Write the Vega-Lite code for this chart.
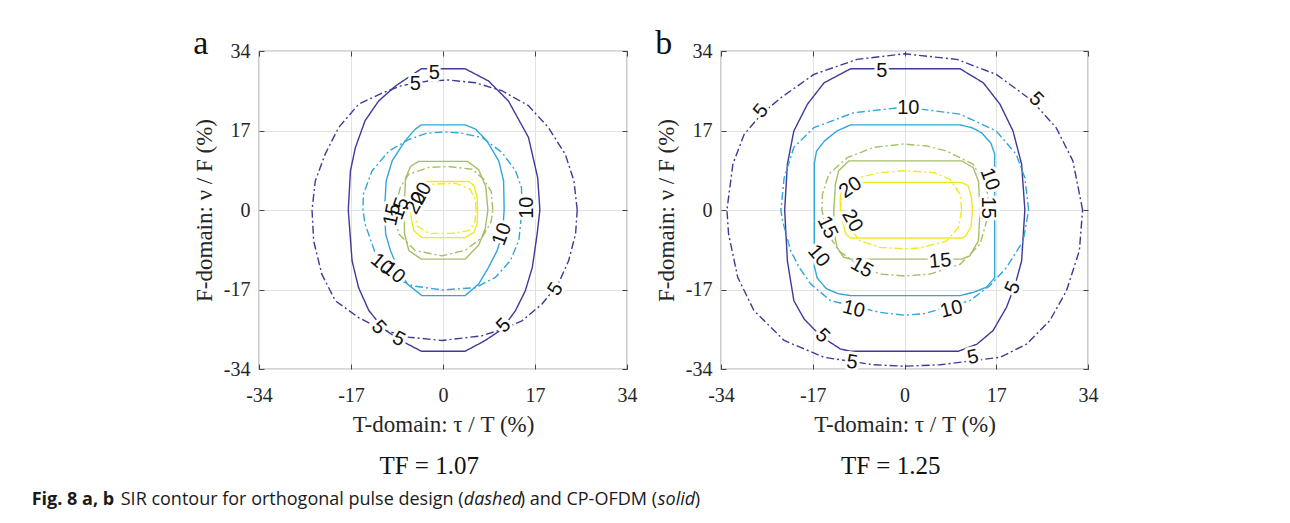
{
  "$schema": "https://vega.github.io/schema/vega-lite/v6.json",
  "background": "white",
  "padding": {"left": 31, "top": 26, "right": 5, "bottom": 5},
  "config": {
    "view": {"stroke": "#555555", "strokeWidth": 1.2},
    "concat": {"spacing": 16},
    "axis": {
      "labelFont": "Liberation Serif", "labelFontSize": 20, "labelColor": "#262626",
      "titleFont": "Liberation Serif", "titleFontSize": 23, "titleFontWeight": "normal", "titleColor": "#262626",
      "grid": true, "gridColor": "#e2e2e2", "gridWidth": 1,
      "domain": false, "ticks": true, "tickSize": -5, "tickColor": "#444444", "tickWidth": 1,
      "labelFlush": false
    },
    "axisX": {"labelPadding": 21, "titlePadding": 8},
    "axisY": {"labelPadding": 14, "titlePadding": 7},
    "title": {"font": "Liberation Serif", "fontWeight": "normal", "color": "#111111"}
  },
  "datasets": {
    "curvesA": [
      {"sir":5,"pulse":"CP-OFDM","i":0,"tau":17.9,"nu":0},
      {"sir":5,"pulse":"CP-OFDM","i":1,"tau":17.5,"nu":6.9},
      {"sir":5,"pulse":"CP-OFDM","i":2,"tau":15.8,"nu":15.5},
      {"sir":5,"pulse":"CP-OFDM","i":3,"tau":12.1,"nu":23.3},
      {"sir":5,"pulse":"CP-OFDM","i":4,"tau":8.4,"nu":27.6},
      {"sir":5,"pulse":"CP-OFDM","i":5,"tau":4.1,"nu":30.2},
      {"sir":5,"pulse":"CP-OFDM","i":6,"tau":-4.0,"nu":30.2},
      {"sir":5,"pulse":"CP-OFDM","i":7,"tau":-5.7,"nu":28.9},
      {"sir":5,"pulse":"CP-OFDM","i":8,"tau":-8.8,"nu":26.5},
      {"sir":5,"pulse":"CP-OFDM","i":9,"tau":-11.9,"nu":23.3},
      {"sir":5,"pulse":"CP-OFDM","i":10,"tau":-14.4,"nu":19.1},
      {"sir":5,"pulse":"CP-OFDM","i":11,"tau":-16.2,"nu":13.3},
      {"sir":5,"pulse":"CP-OFDM","i":12,"tau":-17.1,"nu":8.4},
      {"sir":5,"pulse":"CP-OFDM","i":13,"tau":-17.5,"nu":0},
      {"sir":5,"pulse":"CP-OFDM","i":14,"tau":-16.8,"nu":-10.9},
      {"sir":5,"pulse":"CP-OFDM","i":15,"tau":-15.6,"nu":-16.6},
      {"sir":5,"pulse":"CP-OFDM","i":16,"tau":-13.7,"nu":-21.5},
      {"sir":5,"pulse":"CP-OFDM","i":17,"tau":-10.9,"nu":-25.5},
      {"sir":5,"pulse":"CP-OFDM","i":18,"tau":-7.8,"nu":-27.9},
      {"sir":5,"pulse":"CP-OFDM","i":19,"tau":-4.0,"nu":-30.2},
      {"sir":5,"pulse":"CP-OFDM","i":20,"tau":4.1,"nu":-30.2},
      {"sir":5,"pulse":"CP-OFDM","i":21,"tau":7.8,"nu":-27.9},
      {"sir":5,"pulse":"CP-OFDM","i":22,"tau":10.9,"nu":-25.5},
      {"sir":5,"pulse":"CP-OFDM","i":23,"tau":13.4,"nu":-21.5},
      {"sir":5,"pulse":"CP-OFDM","i":24,"tau":15.2,"nu":-17.3},
      {"sir":5,"pulse":"CP-OFDM","i":25,"tau":16.5,"nu":-12.3},
      {"sir":5,"pulse":"CP-OFDM","i":26,"tau":17.4,"nu":-5.1},
      {"sir":5,"pulse":"CP-OFDM","i":27,"tau":17.9,"nu":0},

      {"sir":5,"pulse":"orthogonal","i":0,"tau":24.8,"nu":0},
      {"sir":5,"pulse":"orthogonal","i":1,"tau":24.2,"nu":6.2},
      {"sir":5,"pulse":"orthogonal","i":2,"tau":22.6,"nu":11.9},
      {"sir":5,"pulse":"orthogonal","i":3,"tau":19.5,"nu":17.6},
      {"sir":5,"pulse":"orthogonal","i":4,"tau":15.8,"nu":22.3},
      {"sir":5,"pulse":"orthogonal","i":5,"tau":10.9,"nu":25.5},
      {"sir":5,"pulse":"orthogonal","i":6,"tau":6.0,"nu":27.2},
      {"sir":5,"pulse":"orthogonal","i":7,"tau":1.0,"nu":27.8},
      {"sir":5,"pulse":"orthogonal","i":8,"tau":-2.6,"nu":27.6},
      {"sir":5,"pulse":"orthogonal","i":9,"tau":-7.6,"nu":26.6},
      {"sir":5,"pulse":"orthogonal","i":10,"tau":-11.3,"nu":25.0},
      {"sir":5,"pulse":"orthogonal","i":11,"tau":-15.6,"nu":22.6},
      {"sir":5,"pulse":"orthogonal","i":12,"tau":-19.3,"nu":17.6},
      {"sir":5,"pulse":"orthogonal","i":13,"tau":-21.8,"nu":11.9},
      {"sir":5,"pulse":"orthogonal","i":14,"tau":-23.6,"nu":6.2},
      {"sir":5,"pulse":"orthogonal","i":15,"tau":-24.2,"nu":0},
      {"sir":5,"pulse":"orthogonal","i":16,"tau":-23.9,"nu":-6.6},
      {"sir":5,"pulse":"orthogonal","i":17,"tau":-22.4,"nu":-13.7},
      {"sir":5,"pulse":"orthogonal","i":18,"tau":-19.9,"nu":-19.4},
      {"sir":5,"pulse":"orthogonal","i":19,"tau":-15.6,"nu":-23.0},
      {"sir":5,"pulse":"orthogonal","i":20,"tau":-11.5,"nu":-25.5},
      {"sir":5,"pulse":"orthogonal","i":21,"tau":-6.3,"nu":-27.2},
      {"sir":5,"pulse":"orthogonal","i":22,"tau":-0.2,"nu":-27.9},
      {"sir":5,"pulse":"orthogonal","i":23,"tau":7.2,"nu":-26.9},
      {"sir":5,"pulse":"orthogonal","i":24,"tau":10.9,"nu":-25.5},
      {"sir":5,"pulse":"orthogonal","i":25,"tau":14.6,"nu":-23.7},
      {"sir":5,"pulse":"orthogonal","i":26,"tau":18.3,"nu":-20.1},
      {"sir":5,"pulse":"orthogonal","i":27,"tau":21.3,"nu":-15.8},
      {"sir":5,"pulse":"orthogonal","i":28,"tau":23.2,"nu":-10.9},
      {"sir":5,"pulse":"orthogonal","i":29,"tau":24.5,"nu":-5.1},
      {"sir":5,"pulse":"orthogonal","i":30,"tau":24.8,"nu":0},

      {"sir":10,"pulse":"CP-OFDM","i":0,"tau":11.3,"nu":0},
      {"sir":10,"pulse":"CP-OFDM","i":1,"tau":11.2,"nu":6.2},
      {"sir":10,"pulse":"CP-OFDM","i":2,"tau":10.3,"nu":10.5},
      {"sir":10,"pulse":"CP-OFDM","i":3,"tau":8.1,"nu":14.8},
      {"sir":10,"pulse":"CP-OFDM","i":4,"tau":6.0,"nu":17.3},
      {"sir":10,"pulse":"CP-OFDM","i":5,"tau":4.1,"nu":18.2},
      {"sir":10,"pulse":"CP-OFDM","i":6,"tau":-4.0,"nu":18.2},
      {"sir":10,"pulse":"CP-OFDM","i":7,"tau":-5.1,"nu":17.3},
      {"sir":10,"pulse":"CP-OFDM","i":8,"tau":-7.0,"nu":14.8},
      {"sir":10,"pulse":"CP-OFDM","i":9,"tau":-9.4,"nu":10.5},
      {"sir":10,"pulse":"CP-OFDM","i":10,"tau":-10.5,"nu":6.2},
      {"sir":10,"pulse":"CP-OFDM","i":11,"tau":-10.8,"nu":0},
      {"sir":10,"pulse":"CP-OFDM","i":12,"tau":-10.6,"nu":-5.1},
      {"sir":10,"pulse":"CP-OFDM","i":13,"tau":-9.7,"nu":-8.7},
      {"sir":10,"pulse":"CP-OFDM","i":14,"tau":-8.4,"nu":-12.3},
      {"sir":10,"pulse":"CP-OFDM","i":15,"tau":-6.6,"nu":-15.8},
      {"sir":10,"pulse":"CP-OFDM","i":16,"tau":-3.9,"nu":-18.3},
      {"sir":10,"pulse":"CP-OFDM","i":17,"tau":4.1,"nu":-18.3},
      {"sir":10,"pulse":"CP-OFDM","i":18,"tau":6.6,"nu":-15.8},
      {"sir":10,"pulse":"CP-OFDM","i":19,"tau":8.4,"nu":-12.3},
      {"sir":10,"pulse":"CP-OFDM","i":20,"tau":10.0,"nu":-8.7},
      {"sir":10,"pulse":"CP-OFDM","i":21,"tau":11.0,"nu":-5.0},
      {"sir":10,"pulse":"CP-OFDM","i":22,"tau":11.3,"nu":0},

      {"sir":10,"pulse":"orthogonal","i":0,"tau":14.6,"nu":0},
      {"sir":10,"pulse":"orthogonal","i":1,"tau":14.5,"nu":4.8},
      {"sir":10,"pulse":"orthogonal","i":2,"tau":13.4,"nu":8.4},
      {"sir":10,"pulse":"orthogonal","i":3,"tau":10.9,"nu":12.3},
      {"sir":10,"pulse":"orthogonal","i":4,"tau":7.2,"nu":15.5},
      {"sir":10,"pulse":"orthogonal","i":5,"tau":3.0,"nu":16.5},
      {"sir":10,"pulse":"orthogonal","i":6,"tau":0,"nu":16.7},
      {"sir":10,"pulse":"orthogonal","i":7,"tau":-3.0,"nu":16.4},
      {"sir":10,"pulse":"orthogonal","i":8,"tau":-6.3,"nu":15.1},
      {"sir":10,"pulse":"orthogonal","i":9,"tau":-10.0,"nu":12.6},
      {"sir":10,"pulse":"orthogonal","i":10,"tau":-13.1,"nu":8.4},
      {"sir":10,"pulse":"orthogonal","i":11,"tau":-14.7,"nu":3.4},
      {"sir":10,"pulse":"orthogonal","i":12,"tau":-14.8,"nu":0},
      {"sir":10,"pulse":"orthogonal","i":13,"tau":-14.4,"nu":-3.0},
      {"sir":10,"pulse":"orthogonal","i":14,"tau":-13.1,"nu":-7.3},
      {"sir":10,"pulse":"orthogonal","i":15,"tau":-12.0,"nu":-10.9},
      {"sir":10,"pulse":"orthogonal","i":16,"tau":-9.5,"nu":-14.2},
      {"sir":10,"pulse":"orthogonal","i":17,"tau":-5.7,"nu":-16.2},
      {"sir":10,"pulse":"orthogonal","i":18,"tau":-0.2,"nu":-17.1},
      {"sir":10,"pulse":"orthogonal","i":19,"tau":6.0,"nu":-16.6},
      {"sir":10,"pulse":"orthogonal","i":20,"tau":9.7,"nu":-14.4},
      {"sir":10,"pulse":"orthogonal","i":21,"tau":12.4,"nu":-10.9},
      {"sir":10,"pulse":"orthogonal","i":22,"tau":14.0,"nu":-6.6},
      {"sir":10,"pulse":"orthogonal","i":23,"tau":14.6,"nu":0},

      {"sir":15,"pulse":"CP-OFDM","i":0,"tau":8.3,"nu":0},
      {"sir":15,"pulse":"CP-OFDM","i":1,"tau":7.9,"nu":5.0},
      {"sir":15,"pulse":"CP-OFDM","i":2,"tau":6.6,"nu":8.6},
      {"sir":15,"pulse":"CP-OFDM","i":3,"tau":4.5,"nu":10.4},
      {"sir":15,"pulse":"CP-OFDM","i":4,"tau":-4.5,"nu":10.4},
      {"sir":15,"pulse":"CP-OFDM","i":5,"tau":-6.0,"nu":9.3},
      {"sir":15,"pulse":"CP-OFDM","i":6,"tau":-6.9,"nu":6.9},
      {"sir":15,"pulse":"CP-OFDM","i":7,"tau":-7.2,"nu":0},
      {"sir":15,"pulse":"CP-OFDM","i":8,"tau":-7.1,"nu":-5.1},
      {"sir":15,"pulse":"CP-OFDM","i":9,"tau":-6.3,"nu":-8.7},
      {"sir":15,"pulse":"CP-OFDM","i":10,"tau":-4.0,"nu":-10.5},
      {"sir":15,"pulse":"CP-OFDM","i":11,"tau":4.1,"nu":-10.5},
      {"sir":15,"pulse":"CP-OFDM","i":12,"tau":6.6,"nu":-7.5},
      {"sir":15,"pulse":"CP-OFDM","i":13,"tau":7.8,"nu":-4.0},
      {"sir":15,"pulse":"CP-OFDM","i":14,"tau":8.3,"nu":0},

      {"sir":15,"pulse":"orthogonal","i":0,"tau":9.2,"nu":0},
      {"sir":15,"pulse":"orthogonal","i":1,"tau":8.9,"nu":4.0},
      {"sir":15,"pulse":"orthogonal","i":2,"tau":7.5,"nu":6.6},
      {"sir":15,"pulse":"orthogonal","i":3,"tau":5.4,"nu":8.7},
      {"sir":15,"pulse":"orthogonal","i":4,"tau":1.0,"nu":9.3},
      {"sir":15,"pulse":"orthogonal","i":5,"tau":-2.6,"nu":9.1},
      {"sir":15,"pulse":"orthogonal","i":6,"tau":-6.3,"nu":7.7},
      {"sir":15,"pulse":"orthogonal","i":7,"tau":-7.9,"nu":4.8},
      {"sir":15,"pulse":"orthogonal","i":8,"tau":-8.8,"nu":0.5},
      {"sir":15,"pulse":"orthogonal","i":9,"tau":-8.6,"nu":-2.5},
      {"sir":15,"pulse":"orthogonal","i":10,"tau":-8.2,"nu":-5.1},
      {"sir":15,"pulse":"orthogonal","i":11,"tau":-5.1,"nu":-8.7},
      {"sir":15,"pulse":"orthogonal","i":12,"tau":-0.2,"nu":-9.8},
      {"sir":15,"pulse":"orthogonal","i":13,"tau":4.1,"nu":-8.6},
      {"sir":15,"pulse":"orthogonal","i":14,"tau":7.2,"nu":-5.9},
      {"sir":15,"pulse":"orthogonal","i":15,"tau":8.9,"nu":-2.5},
      {"sir":15,"pulse":"orthogonal","i":16,"tau":9.2,"nu":0},

      {"sir":20,"pulse":"CP-OFDM","i":0,"tau":6.4,"nu":0},
      {"sir":20,"pulse":"CP-OFDM","i":1,"tau":6.3,"nu":2.7},
      {"sir":20,"pulse":"CP-OFDM","i":2,"tau":5.7,"nu":5.2},
      {"sir":20,"pulse":"CP-OFDM","i":3,"tau":4.8,"nu":6.1},
      {"sir":20,"pulse":"CP-OFDM","i":4,"tau":-3.0,"nu":6.1},
      {"sir":20,"pulse":"CP-OFDM","i":5,"tau":-4.5,"nu":5.5},
      {"sir":20,"pulse":"CP-OFDM","i":6,"tau":-5.5,"nu":3.5},
      {"sir":20,"pulse":"CP-OFDM","i":7,"tau":-5.9,"nu":0},
      {"sir":20,"pulse":"CP-OFDM","i":8,"tau":-5.9,"nu":-1.6},
      {"sir":20,"pulse":"CP-OFDM","i":9,"tau":-5.4,"nu":-4.4},
      {"sir":20,"pulse":"CP-OFDM","i":10,"tau":-3.9,"nu":-5.9},
      {"sir":20,"pulse":"CP-OFDM","i":11,"tau":4.1,"nu":-5.9},
      {"sir":20,"pulse":"CP-OFDM","i":12,"tau":5.7,"nu":-4.8},
      {"sir":20,"pulse":"CP-OFDM","i":13,"tau":6.3,"nu":-3.0},
      {"sir":20,"pulse":"CP-OFDM","i":14,"tau":6.4,"nu":0},

      {"sir":20,"pulse":"orthogonal","i":0,"tau":6.1,"nu":0},
      {"sir":20,"pulse":"orthogonal","i":1,"tau":6.0,"nu":2.0},
      {"sir":20,"pulse":"orthogonal","i":2,"tau":5.0,"nu":4.5},
      {"sir":20,"pulse":"orthogonal","i":3,"tau":2.3,"nu":5.7},
      {"sir":20,"pulse":"orthogonal","i":4,"tau":-2.0,"nu":5.5},
      {"sir":20,"pulse":"orthogonal","i":5,"tau":-4.2,"nu":4.5},
      {"sir":20,"pulse":"orthogonal","i":6,"tau":-5.2,"nu":2.0},
      {"sir":20,"pulse":"orthogonal","i":7,"tau":-5.1,"nu":-1.6},
      {"sir":20,"pulse":"orthogonal","i":8,"tau":-4.8,"nu":-3.4},
      {"sir":20,"pulse":"orthogonal","i":9,"tau":-2.6,"nu":-5.0},
      {"sir":20,"pulse":"orthogonal","i":10,"tau":1.7,"nu":-5.0},
      {"sir":20,"pulse":"orthogonal","i":11,"tau":4.8,"nu":-4.4},
      {"sir":20,"pulse":"orthogonal","i":12,"tau":5.9,"nu":-2.7},
      {"sir":20,"pulse":"orthogonal","i":13,"tau":6.1,"nu":0}
    ],
    "curvesB": [
      {"sir":5,"pulse":"CP-OFDM","i":0,"tau":22.3,"nu":0},
      {"sir":5,"pulse":"CP-OFDM","i":1,"tau":21.7,"nu":9.8},
      {"sir":5,"pulse":"CP-OFDM","i":2,"tau":20.1,"nu":16.9},
      {"sir":5,"pulse":"CP-OFDM","i":3,"tau":17.7,"nu":22.6},
      {"sir":5,"pulse":"CP-OFDM","i":4,"tau":14.6,"nu":27.2},
      {"sir":5,"pulse":"CP-OFDM","i":5,"tau":10.3,"nu":30.2},
      {"sir":5,"pulse":"CP-OFDM","i":6,"tau":-10.0,"nu":30.2},
      {"sir":5,"pulse":"CP-OFDM","i":7,"tau":-14.9,"nu":27.2},
      {"sir":5,"pulse":"CP-OFDM","i":8,"tau":-18.0,"nu":22.6},
      {"sir":5,"pulse":"CP-OFDM","i":9,"tau":-20.5,"nu":16.9},
      {"sir":5,"pulse":"CP-OFDM","i":10,"tau":-21.7,"nu":9.8},
      {"sir":5,"pulse":"CP-OFDM","i":11,"tau":-22.2,"nu":0},
      {"sir":5,"pulse":"CP-OFDM","i":12,"tau":-21.7,"nu":-10.9},
      {"sir":5,"pulse":"CP-OFDM","i":13,"tau":-20.5,"nu":-19.4},
      {"sir":5,"pulse":"CP-OFDM","i":14,"tau":-18.6,"nu":-23.3},
      {"sir":5,"pulse":"CP-OFDM","i":15,"tau":-15.5,"nu":-27.0},
      {"sir":5,"pulse":"CP-OFDM","i":16,"tau":-11.9,"nu":-29.7},
      {"sir":5,"pulse":"CP-OFDM","i":17,"tau":-10.0,"nu":-30.2},
      {"sir":5,"pulse":"CP-OFDM","i":18,"tau":10.0,"nu":-30.2},
      {"sir":5,"pulse":"CP-OFDM","i":19,"tau":13.4,"nu":-28.7},
      {"sir":5,"pulse":"CP-OFDM","i":20,"tau":16.4,"nu":-25.8},
      {"sir":5,"pulse":"CP-OFDM","i":21,"tau":18.9,"nu":-20.8},
      {"sir":5,"pulse":"CP-OFDM","i":22,"tau":20.5,"nu":-16.0},
      {"sir":5,"pulse":"CP-OFDM","i":23,"tau":21.7,"nu":-10.9},
      {"sir":5,"pulse":"CP-OFDM","i":24,"tau":22.3,"nu":0},

      {"sir":5,"pulse":"orthogonal","i":0,"tau":33.0,"nu":0},
      {"sir":5,"pulse":"orthogonal","i":1,"tau":31.2,"nu":10.5},
      {"sir":5,"pulse":"orthogonal","i":2,"tau":28.1,"nu":17.6},
      {"sir":5,"pulse":"orthogonal","i":3,"tau":23.5,"nu":23.5},
      {"sir":5,"pulse":"orthogonal","i":4,"tau":17.0,"nu":29.0},
      {"sir":5,"pulse":"orthogonal","i":5,"tau":9.7,"nu":32.2},
      {"sir":5,"pulse":"orthogonal","i":6,"tau":0,"nu":33.4},
      {"sir":5,"pulse":"orthogonal","i":7,"tau":-8.8,"nu":32.2},
      {"sir":5,"pulse":"orthogonal","i":8,"tau":-16.8,"nu":29.0},
      {"sir":5,"pulse":"orthogonal","i":9,"tau":-22.9,"nu":24.0},
      {"sir":5,"pulse":"orthogonal","i":10,"tau":-26.5,"nu":20.5},
      {"sir":5,"pulse":"orthogonal","i":11,"tau":-29.7,"nu":16.2},
      {"sir":5,"pulse":"orthogonal","i":12,"tau":-31.8,"nu":9.8},
      {"sir":5,"pulse":"orthogonal","i":13,"tau":-32.9,"nu":0},
      {"sir":5,"pulse":"orthogonal","i":14,"tau":-32.6,"nu":-5.1},
      {"sir":5,"pulse":"orthogonal","i":15,"tau":-30.9,"nu":-14.4},
      {"sir":5,"pulse":"orthogonal","i":16,"tau":-27.9,"nu":-21.5},
      {"sir":5,"pulse":"orthogonal","i":17,"tau":-22.3,"nu":-27.9},
      {"sir":5,"pulse":"orthogonal","i":18,"tau":-14.9,"nu":-31.5},
      {"sir":5,"pulse":"orthogonal","i":19,"tau":-5.7,"nu":-33.1},
      {"sir":5,"pulse":"orthogonal","i":20,"tau":0,"nu":-33.4},
      {"sir":5,"pulse":"orthogonal","i":21,"tau":6.6,"nu":-33.1},
      {"sir":5,"pulse":"orthogonal","i":22,"tau":17.7,"nu":-31.5},
      {"sir":5,"pulse":"orthogonal","i":23,"tau":22.6,"nu":-28.7},
      {"sir":5,"pulse":"orthogonal","i":24,"tau":26.9,"nu":-23.7},
      {"sir":5,"pulse":"orthogonal","i":25,"tau":30.0,"nu":-17.3},
      {"sir":5,"pulse":"orthogonal","i":26,"tau":32.4,"nu":-8.7},
      {"sir":5,"pulse":"orthogonal","i":27,"tau":33.0,"nu":0},

      {"sir":10,"pulse":"CP-OFDM","i":0,"tau":16.7,"nu":0},
      {"sir":10,"pulse":"CP-OFDM","i":1,"tau":16.7,"nu":12.0},
      {"sir":10,"pulse":"CP-OFDM","i":2,"tau":16.0,"nu":14.3},
      {"sir":10,"pulse":"CP-OFDM","i":3,"tau":14.3,"nu":16.5},
      {"sir":10,"pulse":"CP-OFDM","i":4,"tau":12.5,"nu":17.6},
      {"sir":10,"pulse":"CP-OFDM","i":5,"tau":10.3,"nu":18.2},
      {"sir":10,"pulse":"CP-OFDM","i":6,"tau":-10.0,"nu":18.2},
      {"sir":10,"pulse":"CP-OFDM","i":7,"tau":-12.5,"nu":16.9},
      {"sir":10,"pulse":"CP-OFDM","i":8,"tau":-14.8,"nu":14.8},
      {"sir":10,"pulse":"CP-OFDM","i":9,"tau":-16.3,"nu":12.6},
      {"sir":10,"pulse":"CP-OFDM","i":10,"tau":-16.7,"nu":10.0},
      {"sir":10,"pulse":"CP-OFDM","i":11,"tau":-16.7,"nu":-12.0},
      {"sir":10,"pulse":"CP-OFDM","i":12,"tau":-16.2,"nu":-14.5},
      {"sir":10,"pulse":"CP-OFDM","i":13,"tau":-14.5,"nu":-16.8},
      {"sir":10,"pulse":"CP-OFDM","i":14,"tau":-12.3,"nu":-17.9},
      {"sir":10,"pulse":"CP-OFDM","i":15,"tau":-10.0,"nu":-18.3},
      {"sir":10,"pulse":"CP-OFDM","i":16,"tau":10.3,"nu":-18.3},
      {"sir":10,"pulse":"CP-OFDM","i":17,"tau":12.8,"nu":-17.6},
      {"sir":10,"pulse":"CP-OFDM","i":18,"tau":15.2,"nu":-16.5},
      {"sir":10,"pulse":"CP-OFDM","i":19,"tau":16.7,"nu":-14.5},
      {"sir":10,"pulse":"CP-OFDM","i":20,"tau":16.7,"nu":0},

      {"sir":10,"pulse":"orthogonal","i":0,"tau":23.0,"nu":0},
      {"sir":10,"pulse":"orthogonal","i":1,"tau":22.3,"nu":6.9},
      {"sir":10,"pulse":"orthogonal","i":2,"tau":20.7,"nu":11.9},
      {"sir":10,"pulse":"orthogonal","i":3,"tau":17.0,"nu":16.9},
      {"sir":10,"pulse":"orthogonal","i":4,"tau":10.3,"nu":20.5},
      {"sir":10,"pulse":"orthogonal","i":5,"tau":0,"nu":22.0},
      {"sir":10,"pulse":"orthogonal","i":6,"tau":-9.4,"nu":20.8},
      {"sir":10,"pulse":"orthogonal","i":7,"tau":-16.8,"nu":17.6},
      {"sir":10,"pulse":"orthogonal","i":8,"tau":-20.5,"nu":13.4},
      {"sir":10,"pulse":"orthogonal","i":9,"tau":-22.3,"nu":6.9},
      {"sir":10,"pulse":"orthogonal","i":10,"tau":-22.9,"nu":0},
      {"sir":10,"pulse":"orthogonal","i":11,"tau":-22.6,"nu":-2.3},
      {"sir":10,"pulse":"orthogonal","i":12,"tau":-21.1,"nu":-8.7},
      {"sir":10,"pulse":"orthogonal","i":13,"tau":-19.5,"nu":-12.3},
      {"sir":10,"pulse":"orthogonal","i":14,"tau":-17.4,"nu":-15.8},
      {"sir":10,"pulse":"orthogonal","i":15,"tau":-13.7,"nu":-19.4},
      {"sir":10,"pulse":"orthogonal","i":16,"tau":-4.5,"nu":-21.9},
      {"sir":10,"pulse":"orthogonal","i":17,"tau":0,"nu":-22.5},
      {"sir":10,"pulse":"orthogonal","i":18,"tau":3.5,"nu":-22.2},
      {"sir":10,"pulse":"orthogonal","i":19,"tau":12.1,"nu":-19.4},
      {"sir":10,"pulse":"orthogonal","i":20,"tau":15.8,"nu":-16.2},
      {"sir":10,"pulse":"orthogonal","i":21,"tau":18.9,"nu":-12.3},
      {"sir":10,"pulse":"orthogonal","i":22,"tau":22.0,"nu":-6.6},
      {"sir":10,"pulse":"orthogonal","i":23,"tau":23.0,"nu":0},

      {"sir":15,"pulse":"CP-OFDM","i":0,"tau":14.0,"nu":0},
      {"sir":15,"pulse":"CP-OFDM","i":1,"tau":13.7,"nu":6.2},
      {"sir":15,"pulse":"CP-OFDM","i":2,"tau":12.7,"nu":9.1},
      {"sir":15,"pulse":"CP-OFDM","i":3,"tau":10.6,"nu":10.5},
      {"sir":15,"pulse":"CP-OFDM","i":4,"tau":-10.3,"nu":10.5},
      {"sir":15,"pulse":"CP-OFDM","i":5,"tau":-12.2,"nu":8.4},
      {"sir":15,"pulse":"CP-OFDM","i":6,"tau":-12.8,"nu":5.5},
      {"sir":15,"pulse":"CP-OFDM","i":7,"tau":-13.1,"nu":0},
      {"sir":15,"pulse":"CP-OFDM","i":8,"tau":-13.1,"nu":-4.4},
      {"sir":15,"pulse":"CP-OFDM","i":9,"tau":-12.5,"nu":-8.0},
      {"sir":15,"pulse":"CP-OFDM","i":10,"tau":-11.3,"nu":-10.1},
      {"sir":15,"pulse":"CP-OFDM","i":11,"tau":-10.0,"nu":-10.5},
      {"sir":15,"pulse":"CP-OFDM","i":12,"tau":10.6,"nu":-10.5},
      {"sir":15,"pulse":"CP-OFDM","i":13,"tau":12.1,"nu":-9.8},
      {"sir":15,"pulse":"CP-OFDM","i":14,"tau":13.7,"nu":-6.6},
      {"sir":15,"pulse":"CP-OFDM","i":15,"tau":14.0,"nu":0},

      {"sir":15,"pulse":"orthogonal","i":0,"tau":15.8,"nu":0},
      {"sir":15,"pulse":"orthogonal","i":1,"tau":15.2,"nu":4.8},
      {"sir":15,"pulse":"orthogonal","i":2,"tau":12.7,"nu":9.8},
      {"sir":15,"pulse":"orthogonal","i":3,"tau":7.8,"nu":12.6},
      {"sir":15,"pulse":"orthogonal","i":4,"tau":4.1,"nu":13.7},
      {"sir":15,"pulse":"orthogonal","i":5,"tau":-0.2,"nu":14.1},
      {"sir":15,"pulse":"orthogonal","i":6,"tau":-5.7,"nu":13.4},
      {"sir":15,"pulse":"orthogonal","i":7,"tau":-10.6,"nu":11.2},
      {"sir":15,"pulse":"orthogonal","i":8,"tau":-14.0,"nu":7.7},
      {"sir":15,"pulse":"orthogonal","i":9,"tau":-15.2,"nu":3.4},
      {"sir":15,"pulse":"orthogonal","i":10,"tau":-15.3,"nu":0},
      {"sir":15,"pulse":"orthogonal","i":11,"tau":-14.5,"nu":-4.5},
      {"sir":15,"pulse":"orthogonal","i":12,"tau":-12.2,"nu":-8.7},
      {"sir":15,"pulse":"orthogonal","i":13,"tau":-8.5,"nu":-11.8},
      {"sir":15,"pulse":"orthogonal","i":14,"tau":-4.5,"nu":-13.7},
      {"sir":15,"pulse":"orthogonal","i":15,"tau":0,"nu":-14.1},
      {"sir":15,"pulse":"orthogonal","i":16,"tau":4.7,"nu":-13.7},
      {"sir":15,"pulse":"orthogonal","i":17,"tau":10.3,"nu":-11.6},
      {"sir":15,"pulse":"orthogonal","i":18,"tau":14.0,"nu":-7.3},
      {"sir":15,"pulse":"orthogonal","i":19,"tau":15.8,"nu":0},

      {"sir":20,"pulse":"CP-OFDM","i":0,"tau":12.6,"nu":0},
      {"sir":20,"pulse":"CP-OFDM","i":1,"tau":12.4,"nu":2.7},
      {"sir":20,"pulse":"CP-OFDM","i":2,"tau":11.8,"nu":5.2},
      {"sir":20,"pulse":"CP-OFDM","i":3,"tau":10.6,"nu":5.9},
      {"sir":20,"pulse":"CP-OFDM","i":4,"tau":-10.0,"nu":5.9},
      {"sir":20,"pulse":"CP-OFDM","i":5,"tau":-11.2,"nu":5.2},
      {"sir":20,"pulse":"CP-OFDM","i":6,"tau":-11.9,"nu":3.0},
      {"sir":20,"pulse":"CP-OFDM","i":7,"tau":-11.9,"nu":1.0},
      {"sir":20,"pulse":"CP-OFDM","i":8,"tau":-11.5,"nu":-2.3},
      {"sir":20,"pulse":"CP-OFDM","i":9,"tau":-10.9,"nu":-5.1},
      {"sir":20,"pulse":"CP-OFDM","i":10,"tau":-10.0,"nu":-6.0},
      {"sir":20,"pulse":"CP-OFDM","i":11,"tau":10.6,"nu":-6.0},
      {"sir":20,"pulse":"CP-OFDM","i":12,"tau":11.2,"nu":-5.7},
      {"sir":20,"pulse":"CP-OFDM","i":13,"tau":12.3,"nu":-3.7},
      {"sir":20,"pulse":"CP-OFDM","i":14,"tau":12.6,"nu":0},

      {"sir":20,"pulse":"orthogonal","i":0,"tau":10.6,"nu":0},
      {"sir":20,"pulse":"orthogonal","i":1,"tau":10.3,"nu":3.4},
      {"sir":20,"pulse":"orthogonal","i":2,"tau":8.4,"nu":6.6},
      {"sir":20,"pulse":"orthogonal","i":3,"tau":5.4,"nu":8.0},
      {"sir":20,"pulse":"orthogonal","i":4,"tau":0,"nu":8.4},
      {"sir":20,"pulse":"orthogonal","i":5,"tau":-4.5,"nu":8.0},
      {"sir":20,"pulse":"orthogonal","i":6,"tau":-7.6,"nu":7.2},
      {"sir":20,"pulse":"orthogonal","i":7,"tau":-10.0,"nu":6.2},
      {"sir":20,"pulse":"orthogonal","i":8,"tau":-11.5,"nu":3.4},
      {"sir":20,"pulse":"orthogonal","i":9,"tau":-11.9,"nu":0},
      {"sir":20,"pulse":"orthogonal","i":10,"tau":-10.3,"nu":-3.7},
      {"sir":20,"pulse":"orthogonal","i":11,"tau":-8.2,"nu":-6.6},
      {"sir":20,"pulse":"orthogonal","i":12,"tau":-4.5,"nu":-8.0},
      {"sir":20,"pulse":"orthogonal","i":13,"tau":0,"nu":-8.3},
      {"sir":20,"pulse":"orthogonal","i":14,"tau":2.9,"nu":-8.1},
      {"sir":20,"pulse":"orthogonal","i":15,"tau":7.8,"nu":-6.6},
      {"sir":20,"pulse":"orthogonal","i":16,"tau":10.0,"nu":-3.7},
      {"sir":20,"pulse":"orthogonal","i":17,"tau":10.6,"nu":0}
    ],
    "labelsA": [
      {"text":"5","tau":-1.6,"nu":29.4,"rot":0},
      {"text":"5","tau":-5.1,"nu":26.9,"rot":0},
      {"text":"10","tau":15.5,"nu":0.5,"rot":-90},
      {"text":"10","tau":10.9,"nu":-5.2,"rot":-70},
      {"text":"5","tau":20.8,"nu":-16.9,"rot":-58},
      {"text":"5","tau":11.2,"nu":-24.7,"rot":-45},
      {"text":"5","tau":-11.9,"nu":-25.1,"rot":48},
      {"text":"5","tau":-8.2,"nu":-27.6,"rot":28},
      {"text":"10","tau":-11.3,"nu":-11.6,"rot":40},
      {"text":"10","tau":-9.1,"nu":-13.4,"rot":40},
      {"text":"15","tau":-9.4,"nu":-1.0,"rot":-78},
      {"text":"15","tau":-8.0,"nu":0.3,"rot":-70},
      {"text":"20","tau":-5.0,"nu":1.5,"rot":-62},
      {"text":"20","tau":-4.0,"nu":3.5,"rot":-62}
    ],
    "labelsB": [
      {"text":"5","tau":-4.2,"nu":29.7,"rot":0},
      {"text":"10","tau":0.7,"nu":21.8,"rot":0},
      {"text":"5","tau":-26.6,"nu":21.2,"rot":-50},
      {"text":"5","tau":24.4,"nu":23.7,"rot":45},
      {"text":"5","tau":20.1,"nu":-16.6,"rot":-65},
      {"text":"10","tau":-9.4,"nu":-21.2,"rot":14},
      {"text":"10","tau":8.7,"nu":-21.2,"rot":-14},
      {"text":"5","tau":-15.2,"nu":-26.9,"rot":45},
      {"text":"5","tau":-9.7,"nu":-32.6,"rot":8},
      {"text":"5","tau":12.7,"nu":-31.5,"rot":-12},
      {"text":"20","tau":-10.0,"nu":4.8,"rot":-35},
      {"text":"20","tau":-9.7,"nu":-2.3,"rot":60},
      {"text":"15","tau":-14.3,"nu":-3.7,"rot":65},
      {"text":"10","tau":-15.9,"nu":-9.8,"rot":50},
      {"text":"15","tau":-7.9,"nu":-12.3,"rot":30},
      {"text":"15","tau":6.6,"nu":-10.9,"rot":-5},
      {"text":"10","tau":15.8,"nu":6.6,"rot":70},
      {"text":"15","tau":15.5,"nu":0.5,"rot":90}
    ]
  },
  "title": {
    "text": ")", "orient": "bottom", "anchor": "start", "frame": "bounds",
    "font": "Open Sans", "fontSize": 18, "fontWeight": "normal", "color": "#1a1a1a",
    "offset": 0, "dx": 663, "dy": -18
  },
  "vconcat": [{
    "title": {
      "text": "solid", "orient": "bottom", "anchor": "start", "frame": "bounds",
      "font": "Open Sans", "fontSize": 18, "fontWeight": "normal", "fontStyle": "italic", "color": "#1a1a1a",
      "offset": 0, "dx": 626, "dy": -18
    },
    "vconcat": [{
      "title": {
        "text": ") and CP-OFDM (", "orient": "bottom", "anchor": "start", "frame": "bounds",
        "font": "Open Sans", "fontSize": 18, "fontWeight": "normal", "color": "#1a1a1a",
        "offset": 0, "dx": 488, "dy": -18
      },
      "vconcat": [{
        "title": {
          "text": "dashed", "orient": "bottom", "anchor": "start", "frame": "bounds",
          "font": "Open Sans", "fontSize": 18, "fontWeight": "normal", "fontStyle": "italic", "color": "#1a1a1a",
          "offset": 0, "dx": 432, "dy": -18
        },
        "vconcat": [{
          "title": {
            "text": "SIR contour for orthogonal pulse design (", "orient": "bottom", "anchor": "start", "frame": "bounds",
            "font": "Open Sans", "fontSize": 18, "fontWeight": "normal", "color": "#1a1a1a",
            "offset": 0, "dx": 89, "dy": -18
          },
          "vconcat": [{
            "title": {
              "text": "Fig. 8 a, b", "orient": "bottom", "anchor": "start", "frame": "bounds",
              "font": "Open Sans", "fontSize": 18, "fontWeight": "bold", "color": "#1a1a1a",
              "offset": 12, "dx": -161
            },
            "spacing": 16,
            "hconcat": [
              {
                "title": {"text": "TF = 1.07", "orient": "bottom", "anchor": "middle", "fontSize": 25, "offset": 17, "dx": 14},
                "vconcat": [{
                  "title": {"text": "a", "anchor": "start", "frame": "bounds", "fontSize": 34, "offset": 0, "dy": 20},
                  "width": 368,
                  "height": 318,
                  "resolve": {"axis": {"x": "independent", "y": "independent"}},
                  "layer": [
                    {
                      "data": {"name": "curvesA"},
                      "mark": {"type": "line", "strokeWidth": 1.4, "strokeJoin": "round"},
                      "encoding": {
                        "x": {"field": "tau", "type": "quantitative", "scale": {"domain": [-34, 34], "nice": false, "zero": false},
                              "axis": {"title": "T-domain: τ / T (%)", "values": [-34, -17, 0, 17, 34], "labelExpr": "'' + datum.value"}},
                        "y": {"field": "nu", "type": "quantitative", "scale": {"domain": [-34, 34], "nice": false, "zero": false},
                              "axis": {"title": "F-domain: ν / F (%)", "values": [-34, -17, 0, 17, 34], "labelExpr": "'' + datum.value"}},
                        "order": {"field": "i", "type": "quantitative"},
                        "color": {"field": "sir", "type": "ordinal", "scale": {"domain": [5, 10, 15, 20], "range": ["#3e3a96", "#31a5dc", "#a5bf65", "#f0ea1d"]}, "legend": null},
                        "strokeDash": {"field": "pulse", "type": "nominal", "scale": {"domain": ["CP-OFDM", "orthogonal"], "range": [[1, 0], [8, 3, 2, 3]]}, "legend": null}
                      }
                    },
                    {
                      "data": {"name": "labelsA"},
                      "mark": {"type": "text", "font": "Liberation Sans", "fontSize": 20, "fill": "white", "stroke": "white", "strokeWidth": 6, "strokeJoin": "round", "align": "center", "baseline": "middle"},
                      "encoding": {
                        "x": {"field": "tau", "type": "quantitative", "axis": {"orient": "top", "labels": false, "grid": false, "title": null, "values": [-34, -17, 0, 17, 34]}},
                        "y": {"field": "nu", "type": "quantitative", "axis": {"orient": "right", "labels": false, "grid": false, "title": null, "values": [-34, -17, 0, 17, 34]}},
                        "text": {"field": "text"},
                        "angle": {"field": "rot", "type": "quantitative", "scale": null}
                      }
                    },
                    {
                      "data": {"name": "labelsA"},
                      "mark": {"type": "text", "font": "Liberation Sans", "fontSize": 20, "fill": "#111111", "align": "center", "baseline": "middle"},
                      "encoding": {
                        "x": {"field": "tau", "type": "quantitative", "axis": null},
                        "y": {"field": "nu", "type": "quantitative", "axis": null},
                        "text": {"field": "text"},
                        "angle": {"field": "rot", "type": "quantitative", "scale": null}
                      }
                    }
                  ]
                }]
              },
              {
                "title": {"text": "TF = 1.25", "orient": "bottom", "anchor": "middle", "fontSize": 25, "offset": 17, "dx": 14},
                "vconcat": [{
                  "title": {"text": "b", "anchor": "start", "frame": "bounds", "fontSize": 34, "offset": 0, "dy": 20},
                  "width": 367,
                  "height": 318,
                  "resolve": {"axis": {"x": "independent", "y": "independent"}},
                  "layer": [
                    {
                      "data": {"name": "curvesB"},
                      "mark": {"type": "line", "strokeWidth": 1.4, "strokeJoin": "round"},
                      "encoding": {
                        "x": {"field": "tau", "type": "quantitative", "scale": {"domain": [-34, 34], "nice": false, "zero": false},
                              "axis": {"title": "T-domain: τ / T (%)", "values": [-34, -17, 0, 17, 34], "labelExpr": "'' + datum.value"}},
                        "y": {"field": "nu", "type": "quantitative", "scale": {"domain": [-34, 34], "nice": false, "zero": false},
                              "axis": {"title": "F-domain: ν / F (%)", "values": [-34, -17, 0, 17, 34], "labelExpr": "'' + datum.value"}},
                        "order": {"field": "i", "type": "quantitative"},
                        "color": {"field": "sir", "type": "ordinal", "scale": {"domain": [5, 10, 15, 20], "range": ["#3e3a96", "#31a5dc", "#a5bf65", "#f0ea1d"]}, "legend": null},
                        "strokeDash": {"field": "pulse", "type": "nominal", "scale": {"domain": ["CP-OFDM", "orthogonal"], "range": [[1, 0], [8, 3, 2, 3]]}, "legend": null}
                      }
                    },
                    {
                      "data": {"name": "labelsB"},
                      "mark": {"type": "text", "font": "Liberation Sans", "fontSize": 20, "fill": "white", "stroke": "white", "strokeWidth": 6, "strokeJoin": "round", "align": "center", "baseline": "middle"},
                      "encoding": {
                        "x": {"field": "tau", "type": "quantitative", "axis": {"orient": "top", "labels": false, "grid": false, "title": null, "values": [-34, -17, 0, 17, 34]}},
                        "y": {"field": "nu", "type": "quantitative", "axis": {"orient": "right", "labels": false, "grid": false, "title": null, "values": [-34, -17, 0, 17, 34]}},
                        "text": {"field": "text"},
                        "angle": {"field": "rot", "type": "quantitative", "scale": null}
                      }
                    },
                    {
                      "data": {"name": "labelsB"},
                      "mark": {"type": "text", "font": "Liberation Sans", "fontSize": 20, "fill": "#111111", "align": "center", "baseline": "middle"},
                      "encoding": {
                        "x": {"field": "tau", "type": "quantitative", "axis": null},
                        "y": {"field": "nu", "type": "quantitative", "axis": null},
                        "text": {"field": "text"},
                        "angle": {"field": "rot", "type": "quantitative", "scale": null}
                      }
                    }
                  ]
                }]
              }
            ]
          }]
        }]
      }]
    }]
  }]
}
